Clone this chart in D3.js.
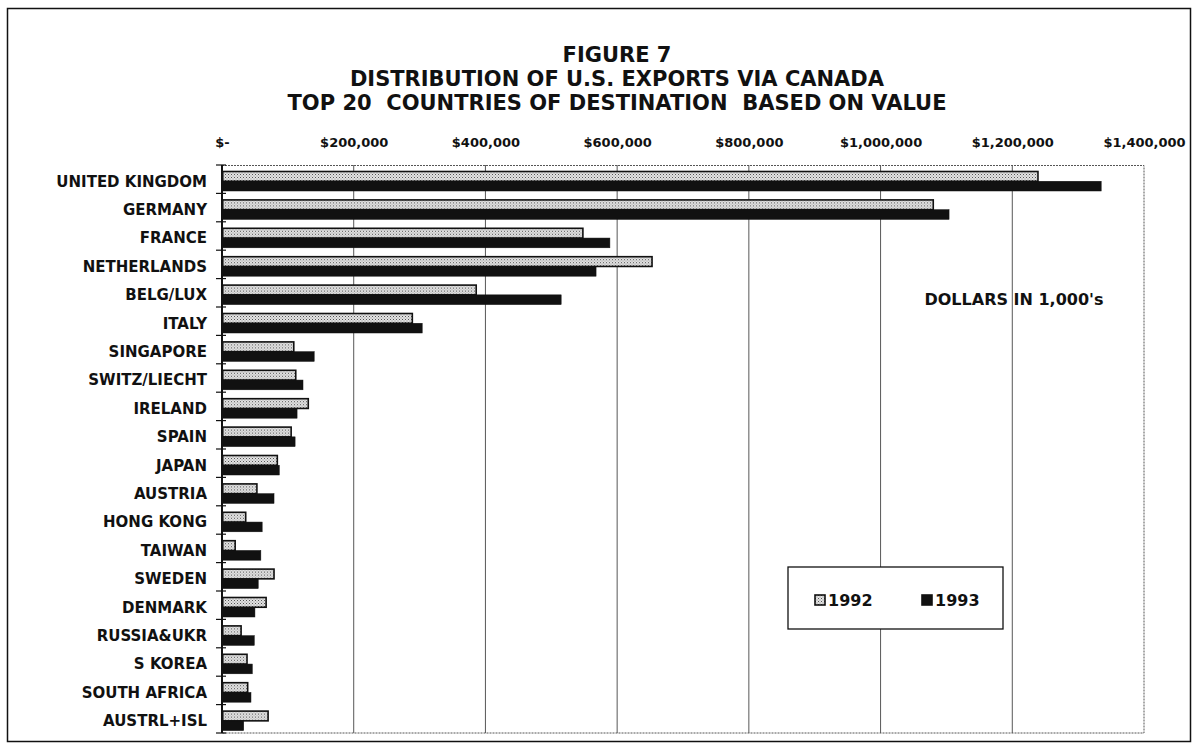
<!DOCTYPE html>
<html>
<head>
<meta charset="utf-8">
<script src="https://cdn.jsdelivr.net/npm/d3@7"></script>
<style>
  body { margin: 0; background: #fff; }
  svg text { font-family: "DejaVu Sans", sans-serif; font-weight: bold; fill: #111; }
</style>
</head>
<body>
<div id="chart"></div>
<script>
// values in $1,000s
const countries = ['UNITED KINGDOM', 'GERMANY', 'FRANCE', 'NETHERLANDS', 'BELG/LUX', 'ITALY',
  'SINGAPORE', 'SWITZ/LIECHT', 'IRELAND', 'SPAIN', 'JAPAN', 'AUSTRIA', 'HONG KONG', 'TAIWAN',
  'SWEDEN', 'DENMARK', 'RUSSIA&UKR', 'S KOREA', 'SOUTH AFRICA', 'AUSTRL+ISL'];
const v1992 = [1239000, 1080000, 548000, 653000, 386000, 289000, 109000, 112000, 131000, 105000,
  84000, 53000, 36000, 20000, 79000, 67000, 29000, 38000, 39000, 70000];
const v1993 = [1335000, 1104000, 589000, 568000, 515000, 304000, 140000, 123000, 114000, 111000,
  87000, 79000, 61000, 59000, 55000, 50000, 49000, 46000, 44000, 33000];
const years = ['1992', '1993'];
const xTicks = [0, 200000, 400000, 600000, 800000, 1000000, 1200000, 1400000];
const titleLines = ['FIGURE 7', 'DISTRIBUTION OF U.S. EXPORTS VIA CANADA',
  'TOP 20  COUNTRIES OF DESTINATION  BASED ON VALUE'];
const unitNote = "DOLLARS IN 1,000's";

const W = 1198, H = 748;
const m = { t: 165, r: 54, b: 15, l: 222 };
const innerW = W - m.l - m.r;
const innerH = H - m.t - m.b;

const svg = d3.select('#chart').append('svg').attr('width', W).attr('height', H);

// stipple fill for the 1992 bars
const pat = svg.append('defs').append('pattern')
  .attr('id', 'stip').attr('width', 3).attr('height', 3).attr('patternUnits', 'userSpaceOnUse');
pat.append('rect').attr('width', 3).attr('height', 3).attr('fill', '#e2e2e2');
pat.append('rect').attr('width', 1).attr('height', 1).attr('fill', '#555');
pat.append('rect').attr('x', 1.5).attr('y', 1.5).attr('width', 1).attr('height', 1).attr('fill', '#8a8a8a');

// outer frame
svg.append('rect').attr('x', 7.5).attr('y', 8.5).attr('width', 1183).attr('height', 733)
  .attr('fill', 'none').attr('stroke', '#111').attr('stroke-width', 1.5);

svg.append('g').selectAll('text').data(titleLines).enter().append('text')
  .attr('x', 617).attr('y', (d, i) => 62 + i * 24)
  .attr('text-anchor', 'middle').style('font-size', '21px').style('white-space', 'pre')
  .text(d => d);

const g = svg.append('g').attr('transform', `translate(${m.l},${m.t})`);

const x = d3.scaleLinear().domain([0, 1400000]).range([0, innerW]);
const y = d3.scaleBand().domain(countries).range([0, innerH]);
const yy = d3.scaleBand().domain(years).range([6.5, 26]);

// gridlines
g.append('g').selectAll('line').data(xTicks.slice(1, -1)).enter().append('line')
  .attr('x1', d => x(d)).attr('x2', d => x(d)).attr('y1', 0).attr('y2', innerH)
  .attr('stroke', '#444').attr('stroke-width', 0.9);

// dotted plot border (top, right, bottom)
g.append('path')
  .attr('d', `M0,0.5H${innerW}V${innerH}H0`)
  .attr('fill', 'none').attr('stroke', '#555').attr('stroke-width', 1)
  .attr('stroke-dasharray', '2,1');

// top axis labels
const xAxis = g.append('g')
  .call(d3.axisTop(x).tickValues(xTicks).tickSize(0).tickPadding(18)
    .tickFormat(d => d === 0 ? '$-' : d3.format('$,')(d)));
xAxis.select('.domain').remove();
xAxis.selectAll('text').style('font-size', '13px').attr('fill', '#111');

// bars
const rows = countries.map((c, i) => ({ c, vals: [v1992[i], v1993[i]] }));
const row = g.append('g').selectAll('g').data(rows).enter().append('g')
  .attr('transform', d => `translate(0,${y(d.c)})`);
row.selectAll('rect').data(d => d.vals.map((v, j) => ({ yr: years[j], v }))).enter().append('rect')
  .attr('x', 0.75)
  .attr('y', d => yy(d.yr))
  .attr('width', d => Math.max(0, x(d.v) - 0.75))
  .attr('height', yy.bandwidth())
  .attr('fill', d => d.yr === '1992' ? 'url(#stip)' : '#111')
  .attr('stroke', '#111')
  .attr('stroke-width', d => d.yr === '1992' ? 1.6 : 0.5);

// left axis: labels + ticks at category boundaries
const yAxis = g.append('g')
  .call(d3.axisLeft(y).tickSize(0).tickPadding(15));
yAxis.select('.domain').remove();
yAxis.selectAll('text').style('font-size', '15px').attr('fill', '#111')
  .attr('transform', 'translate(0,2.5)');

const bounds = countries.map(c => y(c)).concat([innerH]);
g.append('g').selectAll('line').data(bounds).enter().append('line')
  .attr('x1', -6).attr('x2', 4).attr('y1', d => d).attr('y2', d => d)
  .attr('stroke', '#111').attr('stroke-width', 1.2);
g.append('line').attr('x1', 0).attr('x2', 0).attr('y1', 0).attr('y2', innerH)
  .attr('stroke', '#111').attr('stroke-width', 2);

// units note
svg.append('text').attr('x', 1014).attr('y', 305).attr('text-anchor', 'middle')
  .style('font-size', '16px').text(unitNote);

// legend
const lg = svg.append('g').attr('transform', 'translate(788,567)');
lg.append('rect').attr('width', 215).attr('height', 62)
  .attr('fill', '#fff').attr('stroke', '#111').attr('stroke-width', 1.3);
const li = lg.selectAll('g').data(years).enter().append('g')
  .attr('transform', (d, i) => `translate(${27 + i * 107},28)`);
li.append('rect').attr('width', 10).attr('height', 10)
  .attr('fill', d => d === '1992' ? 'url(#stip)' : '#111')
  .attr('stroke', '#111').attr('stroke-width', 1.6);
li.append('text').attr('x', 13).attr('y', 11).style('font-size', '16px').text(d => d);
</script>
</body>
</html>
